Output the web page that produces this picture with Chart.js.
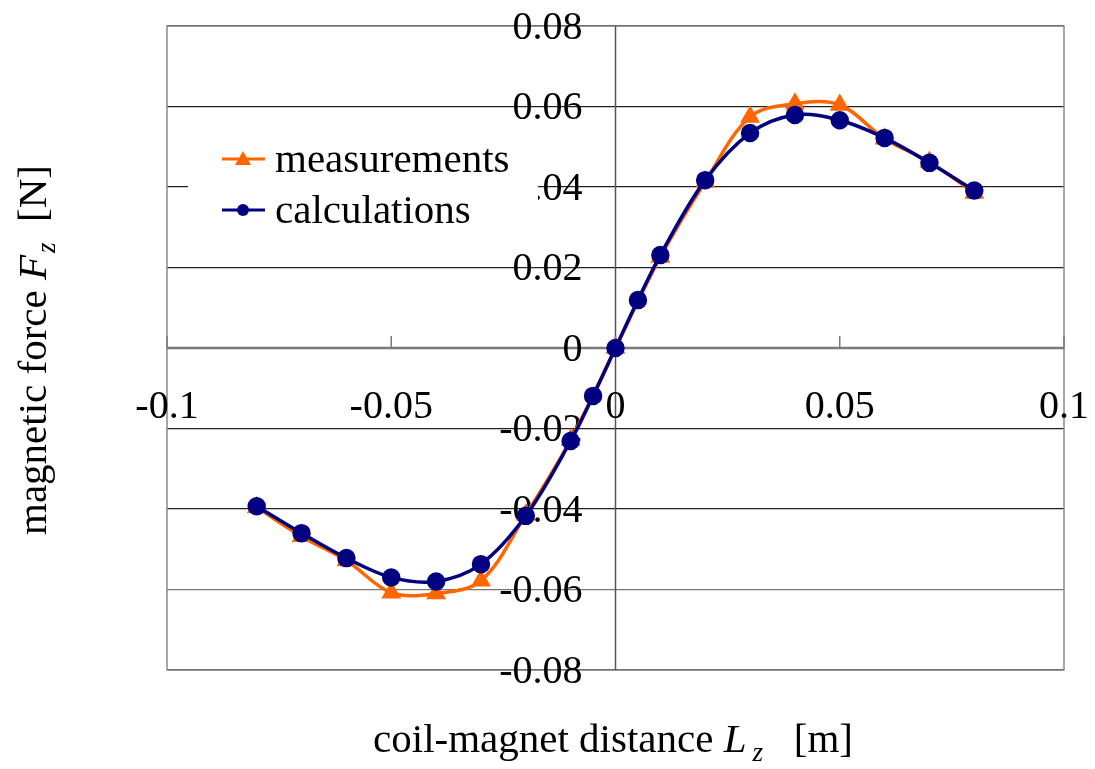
<!DOCTYPE html>
<html>
<head>
<meta charset="utf-8">
<title>magnetic force vs coil-magnet distance</title>
<script src="https://cdn.jsdelivr.net/npm/chart.js@4.4.0/dist/chart.umd.min.js"></script>
<style>
    html, body { margin: 0; padding: 0; background: #fff; }
    #wrap { width: 1095px; height: 769px; }
</style>
</head>
<body>
<div id="wrap"><canvas id="forceChart" width="1095" height="769"></canvas></div>
<script>
// Measured force (orange triangles)
const measX = [-0.08, -0.07, -0.06, -0.05, -0.04, -0.03, -0.02, -0.01, 0,
               0.01, 0.02, 0.03, 0.04, 0.05, 0.06, 0.07, 0.08];
const measF = [-0.0396, -0.0468, -0.0528, -0.0608, -0.0610, -0.0578, -0.0414, -0.0228, 0,
               0.0226, 0.0413, 0.0574, 0.0607, 0.0604, 0.0520, 0.0462, 0.0385];

// Calculated force (navy circles)
const calcX = [-0.08, -0.07, -0.06, -0.05, -0.04, -0.03, -0.02, -0.01, -0.005, 0,
               0.005, 0.01, 0.02, 0.03, 0.04, 0.05, 0.06, 0.07, 0.08];
const calcF = [-0.0393, -0.0460, -0.0522, -0.0570, -0.0580, -0.0537, -0.0417, -0.0231, -0.0119, 0,
               0.0119, 0.0231, 0.0417, 0.0534, 0.0579, 0.0566, 0.0522, 0.0460, 0.0391];

// Tick labels
const xTicks = [-0.1, -0.05, 0, 0.05, 0.1];
const xTickLabels = ['-0.1', '-0.05', '0', '0.05', '0.1'];
const yTicks = [0.08, 0.06, 0.04, 0.02, 0, -0.02, -0.04, -0.06, -0.08];
const yTickLabels = ['0.08', '0.06', '0.04', '0.02', '0', '-0.02', '-0.04', '-0.06', '-0.08'];

const seriesNames = ['measurements', 'calculations'];
const ORANGE = '#ff6600';
const NAVY = '#000080';
const SERIF = '"Liberation Serif", "Times New Roman", serif';

// draw a line of mixed normal / italic / subscript text, centred on cx
function drawRich(ctx, parts, cx, baseY) {
    const fontOf = p => (p.it ? 'italic ' : '') + (p.sub ? '27px ' : '41px ') + SERIF;
    const widthOf = p => ctx.measureText(p.t).width + (p.gap || 0);
    let total = 0;
    parts.forEach(p => { ctx.font = fontOf(p); total += widthOf(p); });
    let x = cx - total / 2;
    ctx.textAlign = 'left';
    ctx.textBaseline = 'alphabetic';
    parts.forEach(p => {
        ctx.font = fontOf(p);
        ctx.fillText(p.t, x + (p.gap || 0), baseY + (p.sub ? 9 : 0));
        x += widthOf(p);
    });
}

function seg(ctx, x1, y1, x2, y2) {
    ctx.beginPath();
    ctx.moveTo(x1, y1);
    ctx.lineTo(x2, y2);
    ctx.stroke();
}

// Frame, centred axes, tick labels and axis titles
const axesPlugin = {
    id: 'axesPlugin',
    beforeDatasetsDraw(chart) {
        const { ctx, chartArea: a, scales: { x, y } } = chart;
        const x0 = x.getPixelForValue(0);
        const y0 = y.getPixelForValue(0);
        ctx.save();

        ctx.strokeStyle = '#8a8a8a';
        ctx.lineWidth = 1.5;
        ctx.strokeRect(a.left, a.top, a.right - a.left, a.bottom - a.top);

        ctx.strokeStyle = '#555';
        ctx.lineWidth = 1.5;
        seg(ctx, x0, a.top, x0, a.bottom);

        ctx.strokeStyle = '#7a7a7a';
        ctx.lineWidth = 2.5;
        seg(ctx, a.left, y0, a.right, y0);
        ctx.lineWidth = 1.5;
        xTicks.forEach(v => {
            const px = x.getPixelForValue(v);
            seg(ctx, px, y0, px, y0 - 12);
        });

        ctx.fillStyle = '#000';
        ctx.font = '40px ' + SERIF;
        ctx.textAlign = 'right';
        ctx.textBaseline = 'middle';
        yTicks.forEach((v, i) => ctx.fillText(yTickLabels[i], x0 - 33, y.getPixelForValue(v) + 2));
        ctx.textAlign = 'center';
        xTicks.forEach((v, i) => ctx.fillText(xTickLabels[i], x.getPixelForValue(v), y0 + 59));

        // x title
        drawRich(ctx, [
            { t: 'coil-magnet distance ' },
            { t: 'L', it: true },
            { t: 'z', it: true, sub: true, gap: 6 },
            { t: '   [m]' }
        ], 613, 752);

        // y title
        ctx.save();
        ctx.translate(46, 350);
        ctx.rotate(-Math.PI / 2);
        drawRich(ctx, [
            { t: 'magnetic force ' },
            { t: 'F', it: true },
            { t: 'z', it: true, sub: true, gap: 2 },
            { t: '  [N]' }
        ], 0, 0);
        ctx.restore();

        ctx.restore();
    },
    afterDatasetsDraw(chart) {
        const { ctx } = chart;
        ctx.save();
        // legend box (white, no border) sits over the 0.04 gridline
        ctx.fillStyle = '#fff';
        ctx.fillRect(188, 132, 350, 106);

        const rows = [
            { name: seriesNames[0], color: ORANGE, y: 159, tri: true },
            { name: seriesNames[1], color: NAVY, y: 210, tri: false }
        ];
        rows.forEach(r => {
            ctx.strokeStyle = r.color;
            ctx.fillStyle = r.color;
            ctx.lineWidth = 3;
            seg(ctx, 222, r.y, 265, r.y);
            ctx.beginPath();
            if (r.tri) {
                ctx.moveTo(243, r.y - 8);
                ctx.lineTo(251, r.y + 6);
                ctx.lineTo(235, r.y + 6);
                ctx.closePath();
            } else {
                ctx.arc(243, r.y, 6, 0, Math.PI * 2);
            }
            ctx.fill();
            ctx.fillStyle = '#000';
            ctx.font = '41px ' + SERIF;
            ctx.textAlign = 'left';
            ctx.textBaseline = 'alphabetic';
            ctx.fillText(r.name, 275, r.y + 13);
        });
        ctx.restore();
    }
};

const toPoints = (xs, ys) => xs.map((v, i) => ({ x: v, y: ys[i] }));

const ctx = document.getElementById('forceChart').getContext('2d');
const forceChart = new Chart(ctx, {
    type: 'line',
    data: {
        datasets: [
            {
                label: seriesNames[1],
                data: toPoints(calcX, calcF),
                borderColor: NAVY,
                backgroundColor: NAVY,
                borderWidth: 3.5,
                pointStyle: 'circle',
                pointRadius: 7.5,
                tension: 0.35,
                order: 1
            },
            {
                label: seriesNames[0],
                data: toPoints(measX, measF),
                borderColor: ORANGE,
                backgroundColor: ORANGE,
                borderWidth: 3.5,
                pointStyle: 'triangle',
                pointRadius: 8,
                tension: 0.35,
                order: 2
            }
        ]
    },
    options: {
        responsive: false,
        animation: false,
        events: [],
        layout: {
            padding: { left: 167, right: 31, top: 26, bottom: 99 }
        },
        scales: {
            x: {
                type: 'linear',
                position: { y: 0 },
                min: -0.1,
                max: 0.1,
                grid: { display: false },
                border: { display: false },
                ticks: { display: false }
            },
            y: {
                type: 'linear',
                position: { x: 0 },
                min: -0.08,
                max: 0.08,
                afterBuildTicks: scale => {
                    scale.ticks = yTicks.map(v => ({ value: v }));
                },
                grid: {
                    drawTicks: false,
                    lineWidth: 1.3,
                    color: c => (c.tick && c.tick.value === -0.06) ? '#777' : '#222'
                },
                border: { display: false },
                ticks: { display: false }
            }
        },
        plugins: {
            legend: { display: false },
            tooltip: { enabled: false }
        }
    },
    plugins: [axesPlugin]
});
</script>
</body>
</html>
